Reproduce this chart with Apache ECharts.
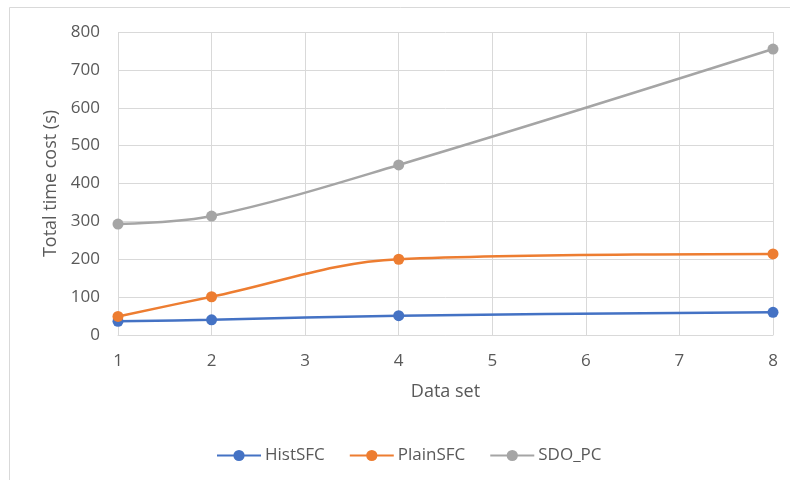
<!DOCTYPE html>
<html>
<head>
<meta charset="utf-8">
<script src="https://cdn.jsdelivr.net/npm/echarts@6/dist/echarts.min.js"></script>
<style>
  html, body { margin: 0; padding: 0; background: #fff; }
  #chart { width: 790px; height: 480px; }
</style>
</head>
<body>
<div id="chart"></div>
<script>
// Data sets measured and the total run time of each method (seconds)
const dataSets = [1, 2, 4, 8];
const histSFC = [36, 40, 51, 60];
const plainSFC = [49, 101, 200, 214];
const sdoPC = [293, 314, 449, 755];
const seriesNames = ['HistSFC', 'PlainSFC', 'SDO_PC'];
const seriesColors = ['#4472C4', '#ED7D31', '#A5A5A5'];

const font = '"Open Sans", "Noto Sans", sans-serif';
const textGray = '#595959';

function pairs(values) {
  return dataSets.map((x, i) => [x, values[i]]);
}

function lineSeries(name, values, color) {
  return {
    name: name,
    type: 'line',
    data: pairs(values),
    smooth: 0.35,
    symbol: 'circle',
    symbolSize: 11,
    lineStyle: { color: color, width: 2.5 },
    itemStyle: { color: color },
    emphasis: { disabled: true }
  };
}

const chart = echarts.init(document.getElementById('chart'));
chart.setOption({
  animation: false,
  backgroundColor: '#ffffff',
  textStyle: { fontFamily: font },
  graphic: [{
    type: 'rect',
    shape: { x: 9.5, y: 7.5, width: 820, height: 520 },
    style: { fill: 'none', stroke: '#D9D9D9', lineWidth: 1 },
    silent: true
  }],
  grid: { left: 118, right: 17, top: 32, bottom: 145 },
  legend: {
    data: seriesNames,
    left: 211,
    top: 442,
    itemWidth: 44,
    itemHeight: 14,
    itemGap: 24,
    textStyle: { color: textGray, fontSize: 17, fontFamily: font, padding: [0, 0, 0, -1] }
  },
  xAxis: {
    type: 'value',
    min: 1,
    max: 8,
    interval: 1,
    name: 'Data set',
    nameLocation: 'middle',
    nameGap: 48,
    nameTextStyle: { color: textGray, fontSize: 18, fontFamily: font },
    axisLine: { show: true, lineStyle: { color: '#D9D9D9', width: 1 } },
    axisTick: { show: false },
    axisLabel: { color: textGray, fontSize: 17, margin: 18, fontFamily: font },
    splitLine: { show: true, lineStyle: { color: '#D9D9D9', width: 1 } }
  },
  yAxis: {
    type: 'value',
    min: 0,
    max: 800,
    interval: 100,
    name: 'Total time cost (s)',
    nameLocation: 'middle',
    nameGap: 56,
    nameTextStyle: { color: textGray, fontSize: 18, fontFamily: font },
    axisLine: { show: false },
    axisTick: { show: false },
    axisLabel: { color: textGray, fontSize: 17, margin: 18, fontFamily: font },
    splitLine: { show: true, lineStyle: { color: '#D9D9D9', width: 1 } }
  },
  series: [
    lineSeries(seriesNames[0], histSFC, seriesColors[0]),
    lineSeries(seriesNames[1], plainSFC, seriesColors[1]),
    lineSeries(seriesNames[2], sdoPC, seriesColors[2])
  ]
});
</script>
</body>
</html>
